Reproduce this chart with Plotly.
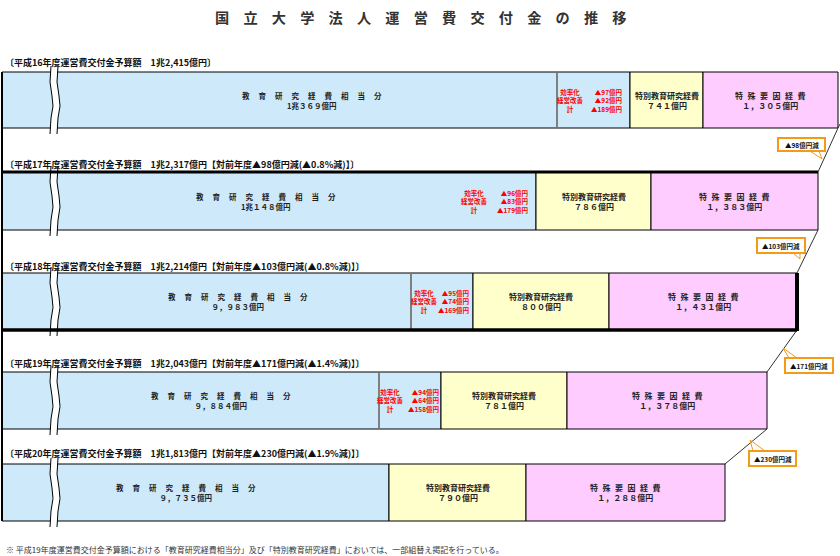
import plotly.graph_objects as go

# ---------------- data (億円) ----------------
YEARS = ["平成16年度", "平成17年度", "平成18年度", "平成19年度", "平成20年度"]
TOTAL = [12415, 12317, 12214, 12043, 11813]
EDU = [10369, 10148, 9983, 9884, 9735]          # 教育研究経費相当分
SPECIAL = [741, 786, 800, 781, 790]             # 特別教育研究経費
FACTOR = [1305, 1383, 1431, 1378, 1288]         # 特殊要因経費
EFFICIENCY = [97, 96, 95, 94, None]             # 効率化
MGMT = [92, 83, 74, 64, None]                   # 経営改善
CHANGE = [None, 98, 103, 171, 230]              # 対前年度減 (億円)
CHANGE_PCT = ["", "0.8", "0.8", "1.4", "1.9"]   # 対前年度減 (%)

TITLE = "国　立　大　学　法　人　運　営　費　交　付　金　の　推　移"
NOTE = "※ 平成19年度運営費交付金予算額における「教育研究経費相当分」及び「特別教育研究経費」においては、一部組替え掲記を行っている。"

# ---------------- schematic layout (page units) ----------------
BAR_TOP = [72, 172, 273, 372, 464]
BAR_BOT = [128, 230, 330, 429, 521]
X_LEFT = 2
X_YELLOW = [630, 536, 473, 441, 389]
X_PINK = [703, 651, 609, 567, 526]
X_END = [838, 818, 797, 767, 725]
X_DIVIDER = [557, None, 411, 379, None]
EDU_LABEL_X = [312, 266, 238, 221, 186]
RED_LABEL_CX = [570, 474, 424, 390, None]
RED_VALUE_RX = [624, 530, 471, 441, None]
ROW_LABEL_Y = [62, 164, 266, 363, 453]
CALLOUT_BOX = [None, (778, 138, 825, 151), (757, 238, 805, 253), (785, 358, 833, 373), (749, 451, 796, 466)]
CALLOUT_PTR = [None, ((810, 151), (822, 159), (819, 151)),
               ((793, 253), (800, 259), (800, 253)),
               ((789, 358), (783, 348), (797, 358)),
               ((753, 451), (750, 440), (765, 451))]

BLUE = "#cde9fa"
YELLOW = "#ffffcc"
PINK = "#ffccff"
ORANGE = "#f59a16"
FONT = "Noto Sans CJK JP"

FW = str.maketrans("0123456789,", "０１２３４５６７８９，")


def fw(s):
    return s.translate(FW)


def edu_text(v):
    if v >= 10000:
        return "1兆" + fw(str(v - 10000)) + "億円"
    return fw(f"{v:,}") + "億円"


fig = go.Figure()

n = len(YEARS)
yc = [(t + b) / 2 for t, b in zip(BAR_TOP, BAR_BOT)]
bh = [b - t for t, b in zip(BAR_TOP, BAR_BOT)]

segs = [
    ("教育研究経費相当分", [X_LEFT] * n, X_YELLOW, BLUE),
    ("特別教育研究経費", X_YELLOW, X_PINK, YELLOW),
    ("特殊要因経費", X_PINK, X_END, PINK),
]
for name, x0s, x1s, col in segs:
    fig.add_trace(go.Bar(
        orientation="h", name=name, y=yc, base=x0s,
        x=[b - a for a, b in zip(x0s, x1s)], width=bh,
        marker=dict(color=col, line=dict(color="black", width=1)),
        hoverinfo="skip", showlegend=False))

shapes = []
ann = []

# left vertical rule
shapes.append(dict(type="line", x0=X_LEFT, x1=X_LEFT, y0=BAR_TOP[0], y1=BAR_BOT[-1],
                   line=dict(color="black", width=2)))

SP9 = "\u3000\u2009"
SP6 = "\u2002\u200a"

for i in range(n):
    t, b = BAR_TOP[i], BAR_BOT[i]
    c = yc[i]
    # grey divider
    if X_DIVIDER[i] is not None:
        shapes.append(dict(type="line", x0=X_DIVIDER[i], x1=X_DIVIDER[i], y0=t + 1, y1=b - 1,
                           line=dict(color="#808080", width=2)))
    # wavy break
    L = [(51, t - 6), (50, t + 10), (52, t + 24), (53, c + 6), (51, b - 10), (50, b + 6)]
    R = [(x + 7, y) for x, y in L]
    fill = "M" + " L".join(f"{x},{y}" for x, y in L) + " L" + " L".join(f"{x},{y}" for x, y in R[::-1]) + " Z"
    shapes.append(dict(type="path", path=fill, fillcolor="white", line=dict(width=0)))
    for pts in (L, R):
        shapes.append(dict(type="path", path="M" + " L".join(f"{x},{y}" for x, y in pts),
                           line=dict(color="black", width=1)))
    # row label
    lbl = f"〔{YEARS[i]}運営費交付金予算額　{TOTAL[i] // 10000}兆{TOTAL[i] % 10000:,}億円"
    if CHANGE[i] is not None:
        lbl += f"【対前年度▲{CHANGE[i]}億円減(▲{CHANGE_PCT[i]}%減)】"
    lbl += "〕"
    ann.append(dict(x=3, y=ROW_LABEL_Y[i], text=lbl, xanchor="left", yanchor="middle",
                    font=dict(size=9, color="#111", family=FONT, weight="bold")))
    # segment labels
    ann.append(dict(x=EDU_LABEL_X[i], y=c,
                    text=SP9.join("教育研究経費相当分") + "<br>" + edu_text(EDU[i]),
                    xanchor="center", yanchor="middle",
                    font=dict(size=7.5, color="#222", family=FONT, weight="bold")))
    ann.append(dict(x=(X_YELLOW[i] + X_PINK[i]) / 2, y=c,
                    text="特別教育研究経費<br>" + fw(f"{SPECIAL[i]:,}") + "億円",
                    xanchor="center", yanchor="middle",
                    font=dict(size=8, color="#222", family=FONT, weight="bold")))
    ann.append(dict(x=(X_PINK[i] + X_END[i]) / 2, y=c,
                    text=SP6.join("特殊要因経費") + "<br>" + fw(f"{FACTOR[i]:,}") + "億円",
                    xanchor="center", yanchor="middle",
                    font=dict(size=8, color="#222", family=FONT, weight="bold")))
    # reductions (red)
    if EFFICIENCY[i] is not None:
        labels = ["効率化", "経営改善", "計"]
        vals = [EFFICIENCY[i], MGMT[i], EFFICIENCY[i] + MGMT[i]]
        ann.append(dict(x=RED_LABEL_CX[i], y=c, text="<br>".join(labels), align="center",
                        xanchor="center", yanchor="middle", borderpad=0,
                        font=dict(size=6.5, color="#ff0000", family=FONT, weight="bold")))
        ann.append(dict(x=RED_VALUE_RX[i], y=c, text="<br>".join(f"▲{v}億円" for v in vals), align="right",
                        xanchor="right", yanchor="middle", borderpad=0,
                        font=dict(size=6.5, color="#ff0000", family=FONT, weight="bold")))
    # connector to next row
    if i + 1 < n:
        shapes.append(dict(type="line", x0=X_END[i], y0=b, x1=X_END[i + 1], y1=BAR_TOP[i + 1],
                           line=dict(color="#333", width=1)))
    # callout
    if CALLOUT_BOX[i] is not None:
        x0, y0, x1, y1 = CALLOUT_BOX[i]
        p = CALLOUT_PTR[i]
        shapes.append(dict(type="path", path=f"M{p[0][0]},{p[0][1]} L{p[1][0]},{p[1][1]} L{p[2][0]},{p[2][1]}",
                           line=dict(color=ORANGE, width=1)))
        shapes.append(dict(type="rect", x0=x0, y0=y0, x1=x1, y1=y1, fillcolor="white",
                           line=dict(color=ORANGE, width=2)))
        ann.append(dict(x=(x0 + x1) / 2, y=(y0 + y1) / 2, text=f"▲{CHANGE[i]}億円減",
                        xanchor="center", yanchor="middle",
                        font=dict(size=6.5, color="#111", family=FONT, weight="bold")))

# thick borders
shapes.append(dict(type="line", x0=X_LEFT, x1=X_END[1], y0=BAR_TOP[1], y1=BAR_TOP[1],
                   line=dict(color="black", width=3)))
shapes.append(dict(type="line", x0=X_LEFT, x1=X_END[2], y0=BAR_BOT[2], y1=BAR_BOT[2],
                   line=dict(color="black", width=3.5)))
shapes.append(dict(type="line", x0=X_END[2], x1=X_END[2], y0=BAR_TOP[2], y1=BAR_BOT[2] + 1,
                   line=dict(color="black", width=4)))
# small slash at bottom-right of first bar
shapes.append(dict(type="line", x0=X_END[0], y0=BAR_BOT[0], x1=X_END[0] + 2, y1=BAR_BOT[0] - 4,
                   line=dict(color="#333", width=1)))

ann.append(dict(x=420, y=17, text=TITLE, xanchor="center", yanchor="middle",
                font=dict(size=14.2, color="#333", family=FONT, weight="bold")))
ann.append(dict(x=4, y=549, text=NOTE, xanchor="left", yanchor="middle",
                font=dict(size=8, color="#333", family=FONT)))

for a in ann:
    a.update(xref="x", yref="y", showarrow=False)

fig.update_layout(
    width=840, height=556, margin=dict(l=0, r=0, t=0, b=0),
    paper_bgcolor="white", plot_bgcolor="white",
    barmode="overlay",
    xaxis=dict(range=[0, 840], visible=False, fixedrange=True),
    yaxis=dict(range=[556, 0], visible=False, fixedrange=True),
    shapes=shapes, annotations=ann,
)

fig.write_html("out.html", config={"displayModeBar": False},
               post_script="document.body.style.margin='0';document.body.style.overflow='hidden';")
